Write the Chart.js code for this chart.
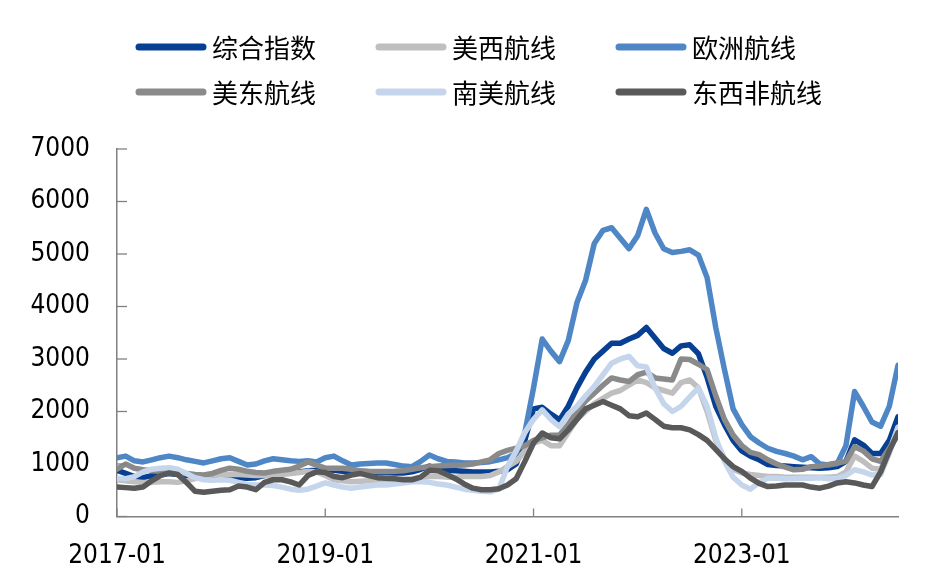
<!DOCTYPE html>
<html><head><meta charset="utf-8">
<script src="https://cdn.jsdelivr.net/npm/chart.js@4.4.1/dist/chart.umd.min.js"></script>
<style>html,body{margin:0;padding:0;background:#fff;}#wrap{width:928px;height:582px;}</style>
</head><body><div id="wrap"><canvas id="c" width="928" height="582"></canvas></div>
<script>
// Monthly categories 2017-01 .. 2024-07
const months = [];
for (let y = 2017; y <= 2024; y++) for (let m = 1; m <= 12; m++) { if (y === 2024 && m > 7) break; months.push(y + '-' + String(m).padStart(2, '0')); }
const xTickLabels = ['2017-01', '2019-01', '2021-01', '2023-01'];
const yTicks = [0, 1000, 2000, 3000, 4000, 5000, 6000, 7000];

const seriesNames = ['综合指数', '美西航线', '欧洲航线', '美东航线', '南美航线', '东西非航线'];
const seriesColors = ['#073f92', '#bfbfbf', '#4f86c6', '#8a8a8a', '#c5d6ec', '#595959'];

const composite = [880,820,760,740,780,800,820,800,780,760, 750,770,780,760,740,730,740,780,800,820,
 830,850,870,880,900,880,860,850,860,850, 840,840,830,830,850,900,960,920,880,870,
 860,850,850,850,860,890,1000,1450,2050,2080, 1950,1840,2100,2450,2750,3000,3150,3300,3300,3380,
 3450,3600,3400,3200,3110,3250,3270,3100,2650,2100, 1750,1450,1250,1150,1080,990,970,960,950,940,
 930,920,930,950,1050,1460,1360,1200,1200,1450, 1900];
const usWest = [700,680,660,650,650,660,660,650,680,720, 780,790,790,800,800,790,780,780,790,800,
 820,840,860,850,780,700,680,660,670,680, 700,700,700,710,720,740,760,760,750,750,
 760,760,760,780,850,950,1050,1250,1400,1450, 1350,1350,1600,1850,2000,2150,2250,2350,2400,2500,
 2600,2550,2450,2400,2350,2550,2600,2450,2000,1450, 1100,900,830,800,780,760,760,750,750,750,
 750,750,750,760,850,1150,1050,920,900,1250, 1700];
const europe = [1120,1150,1060,1040,1080,1120,1150,1120,1080,1050, 1020,1060,1100,1120,1050,980,1000,1060,1100,1080,
 1060,1050,1060,1040,1120,1150,1060,980,1000,1010, 1020,1020,990,960,950,1050,1170,1100,1050,1040,
 1020,1020,1030,1045,1080,1120,1200,1600,2450,3380, 3150,2950,3350,4070,4500,5200,5450,5500,5300,5100,
 5350,5850,5400,5100,5030,5050,5080,4980,4550,3600, 2800,2050,1750,1520,1400,1300,1240,1200,1150,1080,
 1140,1000,980,1010,1350,2380,2100,1800,1720,2100, 2880];
const usEast = [900,1000,920,890,870,860,840,830,820,800, 790,820,880,920,900,860,840,830,860,880,
 900,960,1040,980,920,920,920,900,870,860, 855,855,860,870,900,930,950,960,970,975,
 980,1000,1040,1080,1200,1260,1300,1350,1450,1500, 1550,1550,1750,2000,2200,2350,2500,2640,2600,2570,
 2700,2750,2640,2620,2600,3000,2990,2900,2800,2300, 1850,1550,1350,1220,1180,1080,1000,940,890,900,
 950,960,990,1020,1050,1330,1250,1100,1050,1300, 1550];
const southAm = [730,720,760,850,900,920,930,900,820,740, 700,690,700,690,650,610,600,600,590,560,
 520,500,520,580,640,600,560,540,560,580, 600,600,620,640,660,660,650,620,600,560,
 520,500,480,470,520,950,1250,1600,1850,2030, 1850,1710,1950,2100,2300,2480,2700,2920,3000,3050,
 2870,2850,2450,2150,2000,2100,2280,2450,2100,1500, 1050,750,600,520,650,730,730,720,720,730,
 730,740,720,730,780,890,850,790,800,1200, 1700];
const eastWestAfrica = [560,550,540,560,680,780,830,800,650,480, 460,480,500,510,580,560,510,650,700,700,
 660,600,780,850,840,760,740,790,820,780, 740,730,720,700,700,750,880,870,800,720,
 620,540,510,510,530,600,720,1050,1400,1590, 1500,1480,1650,1850,2050,2120,2190,2120,2050,1920,
 1900,1970,1850,1720,1690,1690,1650,1560,1450,1280, 1100,950,860,730,630,570,580,600,600,600,
 560,540,580,640,660,640,600,570,850,1250, 1600];

const seriesValues = [composite, usWest, europe, usEast, southAm, eastWestAfrica];

const AXIS = '#808080';
const NUM_FONT = { family: '"DejaVu Sans Condensed", "DejaVu Sans", sans-serif', size: 26 };
const CJK_FONT = '26px "Noto Sans CJK SC", sans-serif';
const LEG_X = [139, 379, 619];
const LEG_Y = [47, 92];

const legendGrid = {
  id: 'legendGrid',
  afterDraw(chart) {
    const ctx = chart.ctx;
    ctx.save();
    chart.data.datasets.forEach((ds, i) => {
      const x0 = LEG_X[i % 3], yy = LEG_Y[Math.floor(i / 3)];
      ctx.strokeStyle = ds.borderColor; ctx.lineWidth = 7; ctx.lineCap = 'round';
      ctx.beginPath(); ctx.moveTo(x0, yy); ctx.lineTo(x0 + 64, yy); ctx.stroke();
      ctx.fillStyle = '#000'; ctx.font = CJK_FONT; ctx.textBaseline = 'middle'; ctx.textAlign = 'left';
      ctx.fillText(ds.label, x0 + 73, yy + 1);
    });
    ctx.restore();
  }
};
const innerTicks = {
  id: 'innerTicks',
  afterDraw(chart) {
    const { ctx, chartArea: a, scales: { x, y } } = chart;
    ctx.save(); ctx.strokeStyle = AXIS; ctx.lineWidth = 1.3;
    y.ticks.forEach(t => { const p = y.getPixelForValue(t.value); ctx.beginPath(); ctx.moveTo(a.left, p); ctx.lineTo(a.left + 10, p); ctx.stroke(); });
    x.ticks.forEach(t => { const p = x.getPixelForValue(t.value); ctx.beginPath(); ctx.moveTo(p, a.bottom); ctx.lineTo(p, a.bottom - 8); ctx.stroke(); });
    ctx.restore();
  }
};

new Chart(document.getElementById('c'), {
  type: 'line',
  data: {
    datasets: seriesNames.map((name, i) => ({
      label: name,
      data: seriesValues[i].map((v, k) => ({ x: k, y: v })),
      borderColor: seriesColors[i],
      backgroundColor: seriesColors[i],
      borderWidth: 5.5,
      pointRadius: 0,
      tension: 0,
      borderJoinStyle: 'round',
      borderCapStyle: 'round',
      order: seriesNames.length - 1 - i
    }))
  },
  options: {
    responsive: false,
    animation: false,
    layout: { padding: { top: 149, right: 30, left: 0, bottom: 0 } },
    plugins: { legend: { display: false }, tooltip: { enabled: false } },
    scales: {
      x: {
        type: 'linear', min: 0, max: months.length - 1,
        afterBuildTicks(s) { s.ticks = xTickLabels.map(l => ({ value: months.indexOf(l) })); },
        afterFit(s) { s.height = 65.5; },
        ticks: { callback: v => months[v], font: NUM_FONT, color: '#000', padding: 24, maxRotation: 0, autoSkip: false },
        grid: { display: true, drawOnChartArea: false, drawTicks: false },
        border: { color: AXIS, width: 1.5 }
      },
      y: {
        min: 0, max: 7000,
        afterBuildTicks(s) { s.ticks = yTicks.map(v => ({ value: v })); },
        afterFit(s) { s.width = 117; },
        ticks: { callback: v => String(v), font: NUM_FONT, color: '#000', padding: 27 },
        grid: { display: true, drawOnChartArea: false, drawTicks: false },
        border: { color: AXIS, width: 1.5 }
      }
    }
  },
  plugins: [legendGrid, innerTicks]
});
</script></body></html>
